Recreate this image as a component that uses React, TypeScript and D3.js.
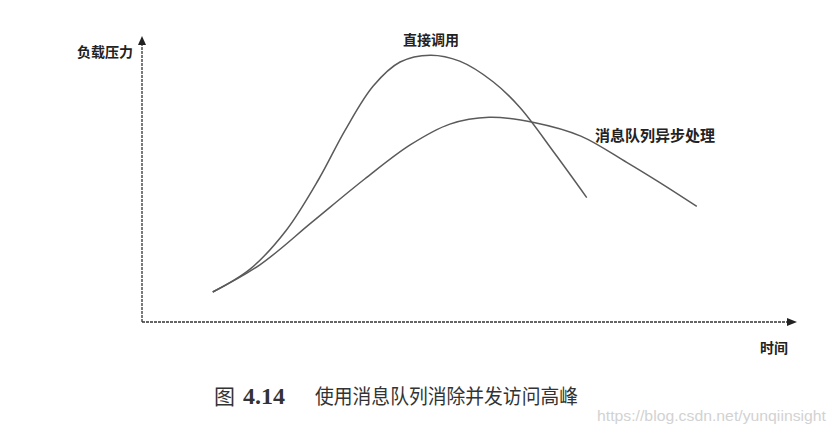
import React from "react";
import * as d3 from "d3";

// time (0-100) vs load (0-100)
const directTime = [10.8, 16.5, 22, 27, 31, 35.3, 39.4, 44, 48.5, 53.6, 57.7, 63, 67.9];
const directLoad = [10.5, 18.5, 32, 50, 67, 82.5, 90.9, 93.3, 91.2, 84, 75, 59, 43.5];
const queueTime = [10.8, 18, 26, 34, 41, 47, 53, 60, 67, 74, 79, 84.7];
const queueLoad = [10.5, 20, 35, 50, 62, 69.2, 71.6, 69.7, 65, 55.8, 48.8, 40.4];

const seriesNames = ["直接调用", "消息队列异步处理"];
const axisLabels = ["负载压力", "时间"];
const captionFig = "图";
const captionNum = "4.14";
const captionText = "使用消息队列消除并发访问高峰";
const watermark = "https://blog.csdn.net/yunqiinsight";

const W = 837, H = 433;
const x0 = 142, x1 = 797, y0 = 322, y1 = 36;

export default function App() {
  const x = d3.scaleLinear().domain([0, 100]).range([x0, x1]);
  const y = d3.scaleLinear().domain([0, 100]).range([y0, y1]);
  const line = d3
    .line<[number, number]>()
    .x((d) => x(d[0]))
    .y((d) => y(d[1]))
    .curve(d3.curveCatmullRom.alpha(0.5));
  const direct = directTime.map((t, i) => [t, directLoad[i]] as [number, number]);
  const queue = queueTime.map((t, i) => [t, queueLoad[i]] as [number, number]);
  const cjk = "'Noto Sans CJK SC', 'Noto Sans', sans-serif";
  return (
    <svg width={W} height={H} style={{ position: "absolute", left: 0, top: 0, background: "#fff" }}>
      {/* axes */}
      <line x1={x0} y1={y0} x2={x0} y2={y1 + 8} stroke="#333" strokeWidth={1.3} strokeDasharray="3,1" />
      <line x1={x0} y1={y0} x2={x1 - 8} y2={y0} stroke="#333" strokeWidth={1.3} strokeDasharray="3,1" />
      <path d={`M${x0},${y1} L${x0 - 4},${y1 + 9} L${x0 + 4},${y1 + 9} Z`} fill="#222" />
      <path d={`M${x1},${y0} L${x1 - 10},${y0 - 4} L${x1 - 10},${y0 + 4} Z`} fill="#222" />
      {/* curves */}
      <path d={line(direct) || ""} fill="none" stroke="#5a5a5a" strokeWidth={1.5} />
      <path d={line(queue) || ""} fill="none" stroke="#5a5a5a" strokeWidth={1.5} />
      {/* labels */}
      <text x={133} y={57} textAnchor="end" fontFamily={cjk} fontWeight="bold" fontSize={14} fill="#222">
        {axisLabels[0]}
      </text>
      <text x={774} y={353} textAnchor="middle" fontFamily={cjk} fontWeight="bold" fontSize={14} fill="#222">
        {axisLabels[1]}
      </text>
      <text x={431} y={45} textAnchor="middle" fontFamily={cjk} fontWeight="bold" fontSize={14} fill="#222">
        {seriesNames[0]}
      </text>
      <text x={595} y={141} fontFamily={cjk} fontWeight="bold" fontSize={15} fill="#222">
        {seriesNames[1]}
      </text>
      {/* caption */}
      <text x={214} y={404} fontFamily={cjk} fontSize={21} fill="#333">
        {captionFig}
      </text>
      <text x={243} y={404} fontFamily="'Liberation Serif', serif" fontWeight="bold" fontSize={24} fill="#333">
        {captionNum}
      </text>
      <text x={315} y={404} fontFamily={cjk} fontSize={20} fill="#333" textLength={263} lengthAdjust="spacingAndGlyphs">
        {captionText}
      </text>
      <text x={597} y={421} fontFamily="'Liberation Sans', Arial, sans-serif" fontSize={15} fill="#d2d2d2" textLength={229} lengthAdjust="spacingAndGlyphs">
        {watermark}
      </text>
    </svg>
  );
}
